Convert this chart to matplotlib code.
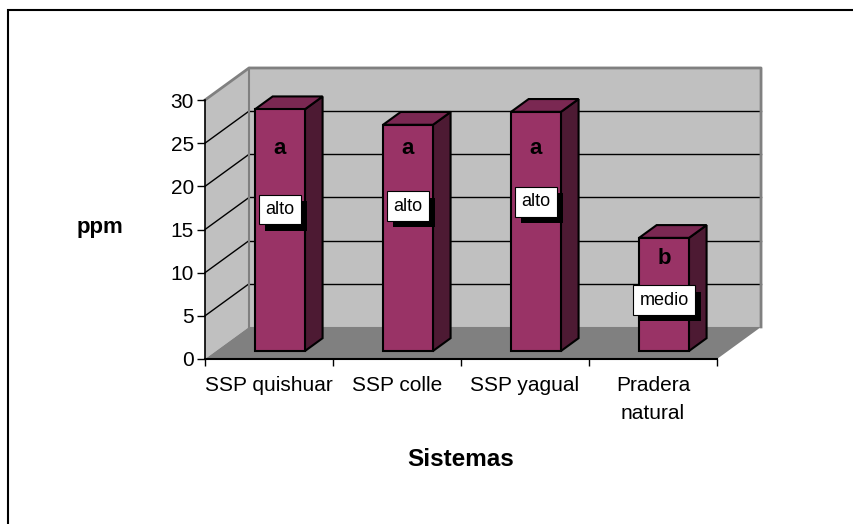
import matplotlib
matplotlib.use("Agg")
import matplotlib.pyplot as plt
import matplotlib.patheffects as pe
from matplotlib.patches import Polygon, Rectangle

plt.rcParams['font.family'] = ['Liberation Sans', 'DejaVu Sans']

# datos
categories = ['SSP quishuar', 'SSP colle', 'SSP yagual', 'Pradera\nnatural']
ppm = [28.0, 26.2, 27.7, 13.1]
letters = ['a', 'a', 'a', 'b']
levels = ['alto', 'alto', 'alto', 'medio']
letter_y = [24.4, 24.4, 24.4, 11.6]
level_y = [17.3, 17.7, 18.2, 6.8]
yticks = [0, 5, 10, 15, 20, 25, 30]

# perspectiva (desplazamiento de la profundidad en unidades de datos)
DX, DY = 0.344, 3.71
d0, bd, bw = 0.25, 0.40, 0.39
YMAX = 30

front_c = '#993366'
top_c = '#7A2852'
side_c = '#4D1A33'
wall_c = '#C0C0C0'
floor_c = '#808080'

fig = plt.figure(figsize=(8.54, 5.24), dpi=100)
ax = fig.add_axes([205 / 854, 165 / 524, 512 / 854, 259 / 524])
ax.set_xlim(-0.5, len(categories) - 0.5)
ax.set_ylim(0, YMAX)
ax.patch.set_visible(False)

x_l, x_r = -0.5, len(categories) - 0.5

# paredes y piso
left_wall = Polygon([(x_l, 0), (x_l + DX, DY), (x_l + DX, YMAX + DY), (x_l, YMAX)],
                    facecolor=wall_c, edgecolor='none', clip_on=False, zorder=0)
back_wall = Polygon([(x_l + DX, DY), (x_r + DX, DY), (x_r + DX, YMAX + DY), (x_l + DX, YMAX + DY)],
                    facecolor=wall_c, edgecolor='none', clip_on=False, zorder=0)
floor = Polygon([(x_l, 0), (x_r, 0), (x_r + DX, DY), (x_l + DX, DY)],
                facecolor=floor_c, edgecolor='none', clip_on=False, zorder=0.5)
for p in (left_wall, back_wall, floor):
    ax.add_patch(p)

# lineas de division
for v in yticks[1:-1]:
    ax.plot([x_l + DX, x_r + DX], [v + DY, v + DY], color='black', lw=1, clip_on=False, zorder=1)
    ax.plot([x_l, x_l + DX], [v, v + DY], color='black', lw=1, clip_on=False, zorder=1)

# bordes de las paredes
ax.plot([x_l, x_l + DX, x_r + DX, x_r + DX], [YMAX, YMAX + DY, YMAX + DY, DY],
        color='#808080', lw=2, clip_on=False, zorder=1)
ax.plot([x_l + DX, x_l + DX], [DY, YMAX + DY], color='#808080', lw=1.5, clip_on=False, zorder=1)

# barras 3D
for i, v in enumerate(ppm):
    x0 = i - bw / 2 + d0 * DX
    x1 = x0 + bw
    y0 = d0 * DY
    ox, oy = bd * DX, bd * DY
    front = Polygon([(x0, y0), (x1, y0), (x1, y0 + v), (x0, y0 + v)],
                    facecolor=front_c, edgecolor='black', lw=1.5, zorder=3, clip_on=False)
    top = Polygon([(x0, y0 + v), (x1, y0 + v), (x1 + ox, y0 + v + oy), (x0 + ox, y0 + v + oy)],
                  facecolor=top_c, edgecolor='black', lw=1.5, zorder=3, clip_on=False)
    side = Polygon([(x1, y0), (x1 + ox, y0 + oy), (x1 + ox, y0 + v + oy), (x1, y0 + v)],
                   facecolor=side_c, edgecolor='black', lw=1.5, zorder=3, clip_on=False)
    for p in (side, top, front):
        ax.add_patch(p)

    xc = (x0 + x1) / 2
    ax.text(xc, letter_y[i], letters[i], ha='center', va='center',
            fontsize=16, fontweight='bold', zorder=5)
    t = ax.text(xc, level_y[i], levels[i], ha='center', va='center', fontsize=13, zorder=6,
                bbox=dict(boxstyle='square,pad=0.35', facecolor='white',
                          edgecolor='black', lw=0.8))
    t.get_bbox_patch().set_path_effects([
        pe.SimplePatchShadow(offset=(4.5, -4.5), shadow_rgbFace='black', alpha=1),
        pe.Normal()])

# ejes
for s in ('top', 'right'):
    ax.spines[s].set_visible(False)
ax.spines['left'].set_linewidth(1.2)
ax.spines['bottom'].set_linewidth(1.5)
ax.spines['left'].set_zorder(4)
ax.spines['bottom'].set_zorder(4)

ax.set_yticks(yticks)
ax.tick_params(axis='y', length=6, width=1, pad=2, labelsize=15)
ax.set_xticks([x_l + k for k in range(len(categories) + 1)])
ax.set_xticklabels([])
ax.tick_params(axis='x', which='major', length=5, width=1)
ax.set_xticks(range(len(categories)), minor=True)
ax.set_xticklabels(categories, minor=True)
ax.tick_params(axis='x', which='minor', length=0, pad=12, labelsize=15)
for lab in ax.get_xticklabels(minor=True):
    lab.set_linespacing(1.6)

fig.text(100 / 854, 1 - 228 / 524, 'ppm', ha='center', va='center',
         fontsize=16, fontweight='bold')
fig.text(461 / 854, 1 - 459 / 524, 'Sistemas', ha='center', va='center',
         fontsize=17.5, fontweight='bold')

# marco del grafico
fig.patches.append(Rectangle((8 / 854, -0.1), 1.2, 1.1 - 10 / 524, transform=fig.transFigure,
                             fill=False, edgecolor='black', lw=1.5))

fig.savefig('out.png', dpi=100)
